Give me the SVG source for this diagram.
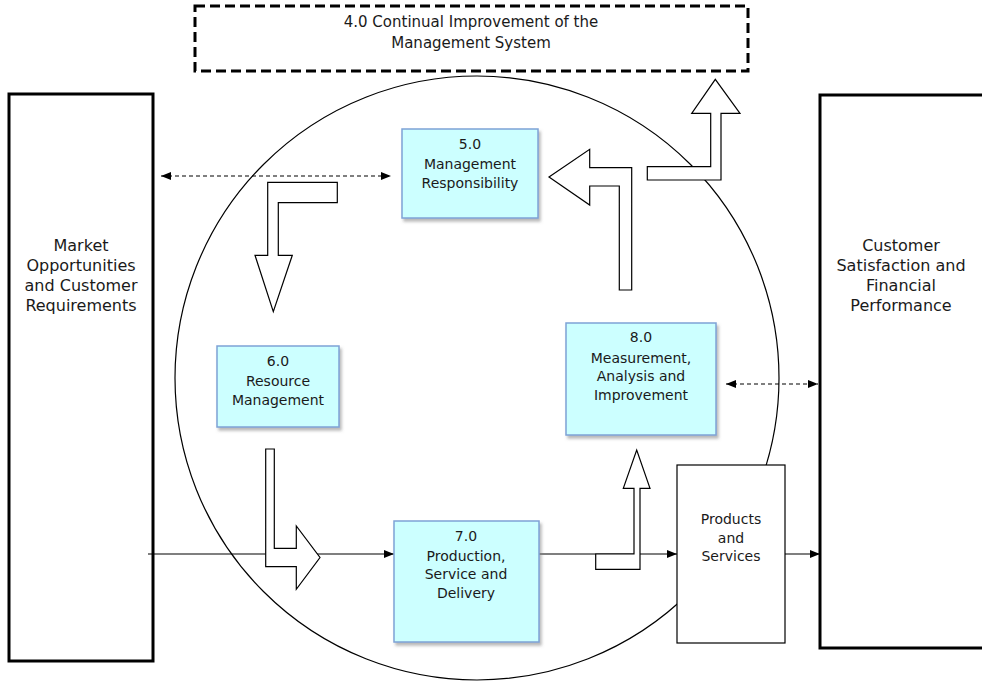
<svg xmlns="http://www.w3.org/2000/svg" width="982" height="681" viewBox="0 0 982 681">
<defs>
<style>
text{font-family:"DejaVu Sans","Liberation Sans",sans-serif;fill:#1a1a1a;text-anchor:middle}
.t14{font-size:14px}
.t15{font-size:15px}
.t16{font-size:16px}
.proc{fill:#ccffff;stroke:#7ea3d6;stroke-width:1.5;filter:url(#sh)}
.big{fill:#fff;stroke:#000;stroke-width:3}
.blk{fill:#fff;stroke:#000;stroke-width:1.2;stroke-linejoin:miter}
.ln{fill:none;stroke:#000;stroke-width:1.2}
.dash{fill:none;stroke:#000;stroke-width:1.2;stroke-dasharray:4,3}
</style>
<filter id="sh" x="-10%" y="-10%" width="130%" height="130%">
<feDropShadow dx="2" dy="3" stdDeviation="1.5" flood-color="#808080" flood-opacity="0.55"/>
</filter>
<marker id="ah" markerUnits="userSpaceOnUse" markerWidth="12" markerHeight="10" refX="10" refY="4" orient="auto-start-reverse" viewBox="0 0 12 10">
<path d="M0,0 L10,4 L0,8 z" fill="#000" stroke="none"/>
</marker>
</defs>

<g id="improvement">
<rect x="195" y="6" width="553" height="65" fill="#fff" stroke="#000" stroke-width="3" stroke-dasharray="10,5"/>
<text class="t15" x="471" y="27">4.0 Continual  Improvement of the</text>
<text class="t15" x="471" y="48">Management System</text>
</g>

<g id="market">
<rect class="big" x="9" y="94" width="144" height="567"/>
<text class="t16" x="81" y="251">Market</text>
<text class="t16" x="81" y="271">Opportunities</text>
<text class="t16" x="81" y="291">and Customer</text>
<text class="t16" x="81" y="311">Requirements</text>
</g>

<g id="customer">
<rect class="big" x="820" y="95" width="180" height="553"/>
<text class="t16" x="901" y="251">Customer</text>
<text class="t16" x="901" y="271">Satisfaction and</text>
<text class="t16" x="901" y="291">Financial</text>
<text class="t16" x="901" y="311">Performance</text>
</g>

<g id="cycle">
<circle cx="477" cy="378" r="302" fill="none" stroke="#000" stroke-width="1.2"/>
</g>

<g id="connectors">
<line class="ln" x1="148" y1="554" x2="394" y2="554" marker-end="url(#ah)"/>
<line class="ln" x1="539" y1="554" x2="677" y2="554" marker-end="url(#ah)"/>
<line class="ln" x1="785" y1="554" x2="820" y2="554" marker-end="url(#ah)"/>
<line class="dash" x1="161" y1="176" x2="391" y2="176" marker-start="url(#ah)" marker-end="url(#ah)"/>
<line class="dash" x1="726" y1="384" x2="818" y2="384" marker-start="url(#ah)" marker-end="url(#ah)"/>
<polygon class="blk" points="337.3,182.3 267.7,182.3 267.7,255.3 255,255.3 273.3,311.7 292.3,255.3 278.3,255.3 278.3,202.7 337.3,202.7"/>
<polygon class="blk" points="265.7,449 274.3,449 274.3,548.3 296.3,548.3 296.3,526 320,557.5 296.3,589.3 296.3,566.7 265.7,566.7"/>
<polygon class="blk" points="595.7,554 634,554 634,488.3 623.3,488.3 636.7,450 650,488.3 640,488.3 640,569.3 595.7,569.3"/>
<polygon class="blk" points="549,177 589.7,149.3 589.7,167.7 631.7,167.7 631.7,290 619.3,290 619.3,186 589.7,186 589.7,205"/>
<polygon class="blk" points="647.3,166.7 710.7,166.7 710.7,113.3 691.7,113.3 715.3,79.3 740,113.3 721,113.3 721,180 647.3,180"/>
</g>

<g id="n5">
<rect class="proc" x="402" y="129" width="136" height="89"/>
<text class="t14" x="470" y="149">5.0</text>
<text class="t14" x="470" y="169">Management</text>
<text class="t14" x="470" y="188">Responsibility</text>
</g>

<g id="n6">
<rect class="proc" x="217" y="346" width="122" height="81"/>
<text class="t14" x="278" y="366">6.0</text>
<text class="t14" x="278" y="386">Resource</text>
<text class="t14" x="278" y="405">Management</text>
</g>

<g id="n7">
<rect class="proc" x="394" y="521" width="145" height="121"/>
<text class="t14" x="466" y="541">7.0</text>
<text class="t14" x="466" y="561">Production,</text>
<text class="t14" x="466" y="579">Service and</text>
<text class="t14" x="466" y="598">Delivery</text>
</g>

<g id="n8">
<rect class="proc" x="566" y="323" width="150" height="112"/>
<text class="t14" x="641" y="342">8.0</text>
<text class="t14" x="641" y="363">Measurement,</text>
<text class="t14" x="641" y="381">Analysis and</text>
<text class="t14" x="641" y="400">Improvement</text>
</g>

<g id="products">
<rect x="677" y="465" width="108" height="178" fill="#fff" stroke="#000" stroke-width="1.2"/>
<text class="t14" x="731" y="524">Products</text>
<text class="t14" x="731" y="543">and</text>
<text class="t14" x="731" y="561">Services</text>
</g>
</svg>
